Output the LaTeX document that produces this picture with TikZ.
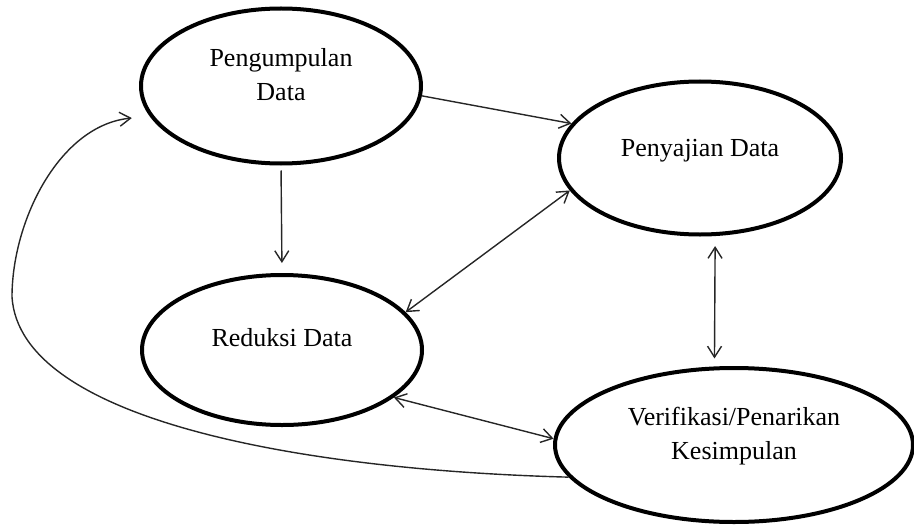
\documentclass[tikz,border=0pt]{standalone}
\usepackage{fontspec}
\setmainfont{Liberation Serif}
\usetikzlibrary{shapes.geometric,arrows.meta}

\begin{document}
\begin{tikzpicture}[x=0.5pt,y=-0.5pt,
  stage/.style={ellipse,draw=black,line width=2pt,inner sep=0pt},
  txt/.style={align=center,font=\fontsize{13}{17}\selectfont,yshift=5pt},
  fl/.style={-{Straight Barb[length=5.5pt,width=7pt]},line width=0.7pt,black!85},
  bfl/.style={{Straight Barb[length=5.5pt,width=7pt]}-{Straight Barb[length=5.5pt,width=7pt]},
              line width=0.7pt,black!85}
]
  \useasboundingbox (0,0) rectangle (914,524);

  \node[stage,minimum width=140pt,minimum height=77.5pt,
        label={[txt,yshift=0.75pt]center:{Pengumpulan\\Data}}] (kumpul) at (281,86) {};
  \node[stage,minimum width=141pt,minimum height=76.5pt,
        label={[txt,yshift=-1.5pt]center:{Penyajian Data}}] (saji) at (700,158) {};
  \node[stage,minimum width=140pt,minimum height=75pt,
        label={[txt,yshift=1pt]center:{Reduksi Data}}] (reduksi) at (282,350) {};
  \node[stage,minimum width=179pt,minimum height=77pt,
        label={[txt,yshift=-0.5pt]center:{Verifikasi/Penarikan\\Kesimpulan}}] (verif) at (734,445) {};

  \draw[fl,shorten <=2.5pt,shorten >=5pt](kumpul.south)--(reduksi.north);
  \draw[fl](kumpul.-4)--(saji.165);
  \draw[bfl](saji.194)--(reduksi.17);
  \draw[bfl,shorten <=5pt,shorten >=4pt](saji.-79)--(verif.104);
  \draw[bfl](reduksi.-23)--(verif.178);
  \draw[fl,shorten >=9pt](verif.191)
      .. controls (300,470) and (20,420) .. (12,297)
      .. controls (12,220) and (60,125) .. (kumpul.193);
\end{tikzpicture}
\end{document}
